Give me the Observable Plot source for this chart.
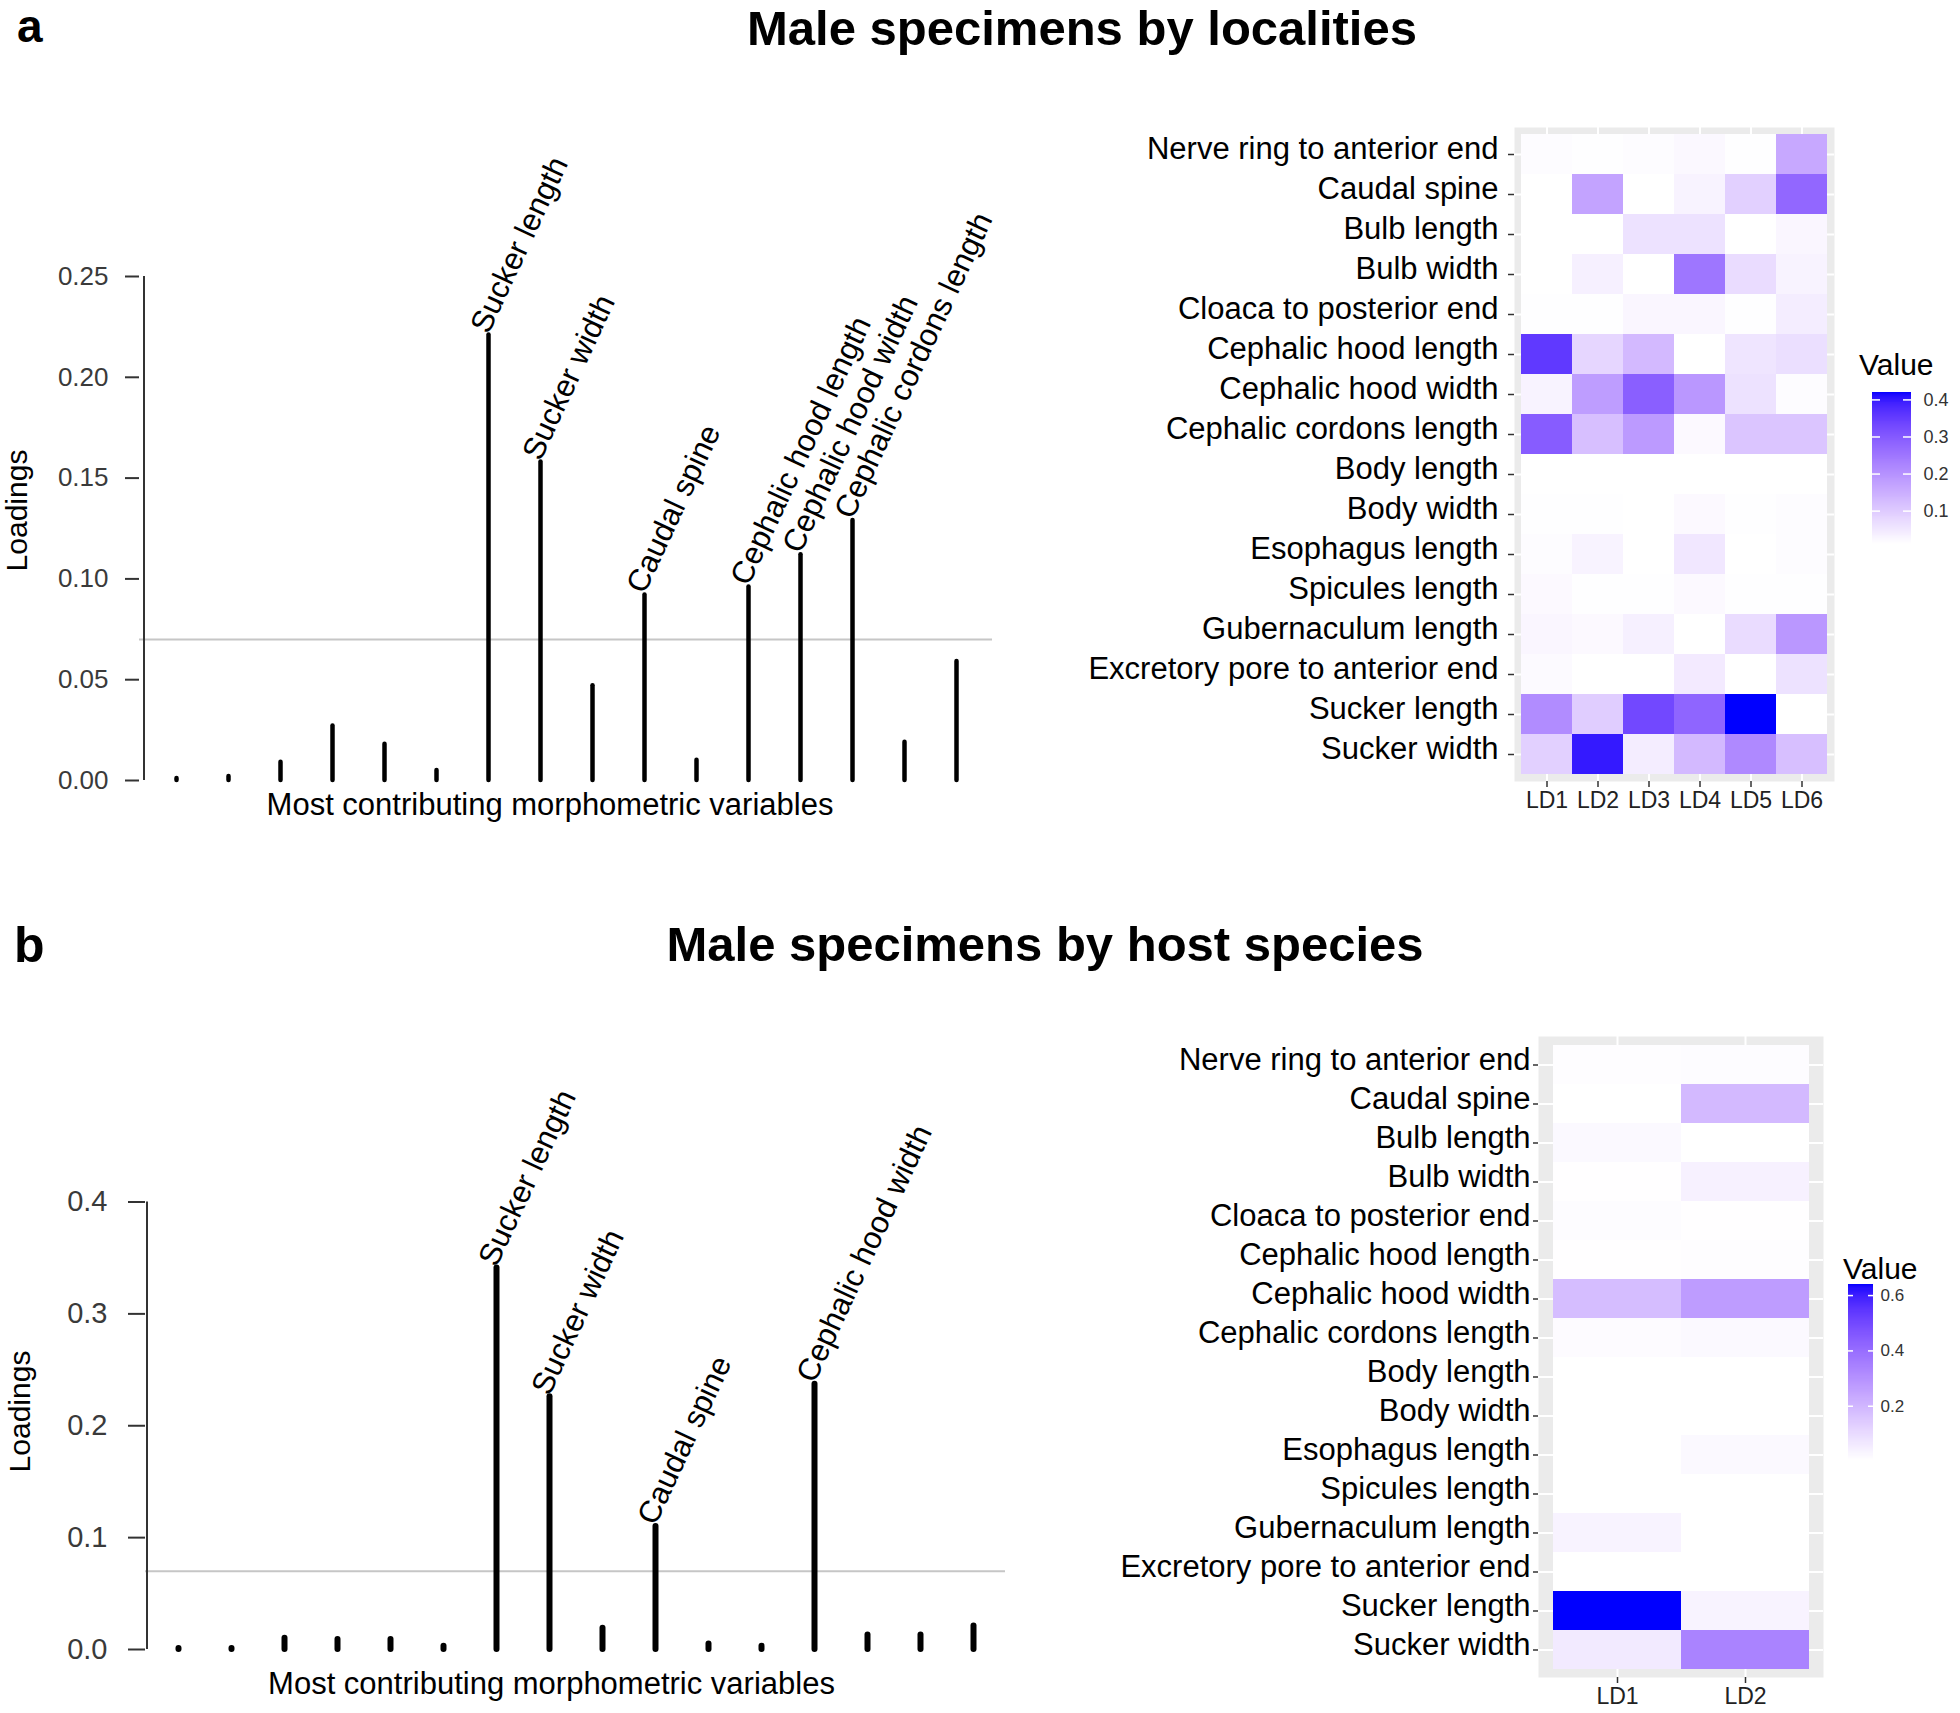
<!DOCTYPE html>
<html>
<head>
<meta charset="utf-8">
<script src="https://cdn.jsdelivr.net/npm/d3@7"></script>
<script src="https://cdn.jsdelivr.net/npm/@observablehq/plot@0.6"></script>
<style>
  html, body { margin: 0; padding: 0; background: #fff; }
  #root { position: relative; width: 1960px; height: 1713px; overflow: hidden; background: #fff;
          font-family: "Liberation Sans", Arial, Helvetica, sans-serif; }
  .t { position: absolute; line-height: 1; white-space: nowrap; color: #000; }
</style>
</head>
<body>
<div id="root"></div>
<script>
// ---------------- DATA ----------------
// Panel a: loadings of the 16 stems (left to right) and their labels
const loadingsA = [0.001, 0.002, 0.009, 0.027, 0.018, 0.005, 0.221, 0.158, 0.047, 0.092, 0.010, 0.096, 0.112, 0.129, 0.019, 0.059];
const stemLabelsA = ["", "", "", "", "", "", "Sucker length", "Sucker width", "", "Caudal spine", "", "Cephalic hood length", "Cephalic hood width", "Cephalic cordons length", "", ""];
const thresholdA = 0.07;
const yTicksA = [0, 0.05, 0.10, 0.15, 0.20, 0.25];

// Panel b
const loadingsB = [0.001, 0.001, 0.010, 0.009, 0.009, 0.003, 0.341, 0.226, 0.019, 0.110, 0.005, 0.003, 0.237, 0.013, 0.013, 0.021];
const stemLabelsB = ["", "", "", "", "", "", "Sucker length", "Sucker width", "", "Caudal spine", "", "", "Cephalic hood width", "", "", ""];
const thresholdB = 0.07;
const yTicksB = [0, 0.1, 0.2, 0.3, 0.4];

// Heatmap rows (top to bottom)
const variables = ["Nerve ring to anterior end", "Caudal spine", "Bulb length", "Bulb width", "Cloaca to posterior end",
  "Cephalic hood length", "Cephalic hood width", "Cephalic cordons length", "Body length", "Body width",
  "Esophagus length", "Spicules length", "Gubernaculum length", "Excretory pore to anterior end", "Sucker length", "Sucker width"];

// Heatmap a columns
const ldA = ["LD1", "LD2", "LD3", "LD4", "LD5", "LD6"];
const heatA_LD1 = [0.015, 0.010, 0.010, 0.010, 0.012, 0.355, 0.030, 0.295, 0.010, 0.012, 0.015, 0.020, 0.025, 0.018, 0.210, 0.090];
const heatA_LD2 = [0.012, 0.170, 0.010, 0.035, 0.012, 0.080, 0.180, 0.120, 0.010, 0.012, 0.030, 0.012, 0.020, 0.010, 0.095, 0.400];
const heatA_LD3 = [0.015, 0.010, 0.060, 0.010, 0.025, 0.130, 0.290, 0.185, 0.010, 0.010, 0.010, 0.012, 0.035, 0.010, 0.330, 0.040];
const heatA_LD4 = [0.022, 0.030, 0.060, 0.250, 0.025, 0.010, 0.190, 0.020, 0.010, 0.020, 0.050, 0.020, 0.010, 0.045, 0.280, 0.130];
const heatA_LD5 = [0.012, 0.090, 0.010, 0.070, 0.012, 0.055, 0.060, 0.110, 0.010, 0.012, 0.010, 0.012, 0.070, 0.010, 0.420, 0.215];
const heatA_LD6 = [0.160, 0.275, 0.025, 0.030, 0.040, 0.065, 0.015, 0.110, 0.010, 0.015, 0.015, 0.012, 0.190, 0.060, 0.010, 0.120];
const legendTicksA = [0.1, 0.2, 0.3, 0.4];

// Heatmap b columns
const ldB = ["LD1", "LD2"];
const heatB_LD1 = [0.008, 0.004, 0.020, 0.006, 0.012, 0.006, 0.180, 0.015, 0.004, 0.004, 0.005, 0.004, 0.035, 0.004, 0.640, 0.060];
const heatB_LD2 = [0.012, 0.190, 0.004, 0.040, 0.006, 0.010, 0.270, 0.020, 0.004, 0.004, 0.020, 0.004, 0.004, 0.004, 0.035, 0.340];
const legendTicksB = [0.2, 0.4, 0.6];

// ---------------- HELPERS ----------------
const FONT = '"Liberation Sans", Arial, Helvetica, sans-serif';
const NARROW = '"Liberation Sans Narrow", "Arial Narrow", "Liberation Sans", Arial, sans-serif';
const root = document.getElementById("root");

function place(node, left, top) {
  node.style.position = "absolute";
  node.style.left = left + "px";
  node.style.top = top + "px";
  root.appendChild(node);
}
// line-height 1: baseline sits 0.8465em below the box top (Liberation Sans metrics)
function htmlText(txt, {left, baseline, size, weight = "normal", anchor = "start"}) {
  const d = document.createElement("div");
  d.className = "t";
  d.textContent = txt;
  d.style.fontSize = size + "px";
  d.style.fontWeight = weight;
  d.style.left = left + "px";
  d.style.top = (baseline - 0.8465 * size) + "px";
  if (anchor === "middle") d.style.transform = "translateX(-50%)";
  root.appendChild(d);
}

function lollipop(o) {
  const data = o.loadings.map((v, i) => ({id: i + 1, v, label: o.labels[i]}));
  const y0 = o.yTicks[0], y1 = o.yTicks[o.yTicks.length - 1];
  return Plot.plot({
    width: o.width, height: o.height,
    marginLeft: o.marginLeft, marginRight: o.marginRight, marginTop: o.marginTop, marginBottom: o.marginBottom,
    style: {fontFamily: FONT, background: "transparent", overflow: "visible"},
    x: {type: "point", domain: data.map(d => d.id), padding: o.padding, axis: null},
    y: {domain: [y0, y1], range: o.yRange},
    marks: [
      Plot.ruleY([o.threshold], {stroke: "#c6c6c6", strokeWidth: 2}),
      Plot.ruleX([data[0].id], {y1: y0, y2: y1, dx: o.axisDx, stroke: "#333", strokeWidth: 2}),
      Plot.axisY({ticks: o.yTicks, tickFormat: o.tickFormat, tickSize: o.tickSize, tickPadding: o.tickPadding,
                  fontSize: o.tickFont, stroke: "#333", strokeWidth: 2, fill: "#3a3a3a", label: null}),
      Plot.axisY({ticks: [], label: "Loadings", labelAnchor: "center", labelArrow: false,
                  labelOffset: o.labelOffset, fontSize: 30, fill: "black"}),
      Plot.ruleX(data, {x: "id", y1: 0, y2: "v", stroke: "black", strokeWidth: o.stemWidth, strokeLinecap: "round"}),
      Plot.text(data.filter(d => d.label), {x: "id", y: "v", text: "label", rotate: -65,
                  textAnchor: "start", lineAnchor: "bottom", fontSize: 31, fill: "black"}),
      Plot.text(["Most contributing morphometric variables"], {frameAnchor: "bottom", lineAnchor: "bottom",
                  dx: o.titleDx, dy: o.titleDy, fontSize: 31, fill: "black"})
    ]
  });
}

function heatmap(o) {
  const cells = o.columns.flatMap((vals, j) => vals.map((value, i) => ({ld: o.xDomain[j], variable: variables[i], value})));
  return Plot.plot({
    width: o.width, height: o.height,
    marginLeft: o.marginLeft, marginRight: o.marginRight, marginTop: o.marginTop, marginBottom: o.marginBottom,
    style: {fontFamily: FONT, background: "transparent"},
    x: {type: "band", domain: o.xDomain, paddingInner: 0, paddingOuter: o.padX},
    y: {type: "band", domain: variables, paddingInner: 0, paddingOuter: o.padY},
    color: o.color,
    marks: [
      Plot.frame({fill: "#ebebeb"}),
      Plot.gridX({stroke: "white", strokeOpacity: 1, strokeWidth: 2}),
      Plot.gridY({stroke: "white", strokeOpacity: 1, strokeWidth: 2}),
      Plot.cell(cells, {x: "ld", y: "variable", fill: "value", inset: 0}),
      // tick marks only
      Plot.axisY({tickSize: o.yTickSize, stroke: "#333", strokeWidth: 1.5, fill: "none", label: null}),
      // tick labels only, sitting slightly above the tick like ggplot
      Plot.axisY({tickSize: o.yTickSize, tickPadding: o.yTickPadding, stroke: "none", dy: -5,
                  fontSize: 31, fill: "black", label: null}),
      Plot.axisX({tickSize: 6, tickPadding: 4, fontSize: 23, stroke: "#333", strokeWidth: 1.5, fill: "#222", label: null})
    ]
  });
}

function colorbar(o) {
  const [lo, hi] = o.color.domain;
  const n = 160;
  const slices = d3.range(n).map(i => ({a: lo + (hi - lo) * i / n, b: lo + (hi - lo) * (i + 1) / n}));
  const barW = o.width - o.marginLeft - o.marginRight;
  return Plot.plot({
    width: o.width, height: o.height,
    marginLeft: o.marginLeft, marginRight: o.marginRight, marginTop: o.marginTop, marginBottom: o.marginBottom,
    style: {fontFamily: o.family, background: "transparent"},
    y: {domain: [lo, hi]},
    color: o.color,
    marks: [
      Plot.rect(slices, {y1: "a", y2: "b", fill: d => (d.a + d.b) / 2, shapeRendering: "crispEdges"}),
      Plot.tickY(o.ticks, {stroke: "white", strokeWidth: 1.5, insetRight: barW - o.tickLen}),
      Plot.tickY(o.ticks, {stroke: "white", strokeWidth: 1.5, insetLeft: barW - o.tickLen}),
      Plot.axisY({anchor: "right", ticks: o.ticks, tickFormat: d3.format(".1f"), tickSize: 0, tickPadding: o.tickPadding,
                  fontSize: o.fontSize, fill: "#333", label: null})
    ]
  });
}

// ---------------- BUILD ----------------
const colsA = [heatA_LD1, heatA_LD2, heatA_LD3, heatA_LD4, heatA_LD5, heatA_LD6];
const colsB = [heatB_LD1, heatB_LD2];
const colorA = {type: "linear", domain: d3.extent(colsA.flat()), range: ["white", "blue"], interpolate: "lab"};
const colorB = {type: "linear", domain: d3.extent(colsB.flat()), range: ["white", "blue"], interpolate: "lab"};

// Titles (kept fully inside the page)
htmlText("a", {left: 17, baseline: 42, size: 46, weight: "bold"});
htmlText("Male specimens by localities", {left: 1082, baseline: 45, size: 49, weight: "bold", anchor: "middle"});
htmlText("b", {left: 14, baseline: 962, size: 50, weight: "bold"});
htmlText("Male specimens by host species", {left: 1045, baseline: 961, size: 49, weight: "bold", anchor: "middle"});

// Panel a lollipop (svg top at page y=100)
place(lollipop({
  loadings: loadingsA, labels: stemLabelsA, threshold: thresholdA, yTicks: yTicksA, tickFormat: d3.format(".2f"),
  width: 1000, height: 740, marginLeft: 139, marginRight: 8, marginTop: 140, marginBottom: 60,
  yRange: [680, 176], padding: 0.62, stemWidth: 4.5, tickFont: 26, tickSize: 14, tickPadding: 17,
  labelOffset: 134, axisDx: -32.5, titleDx: -16, titleDy: 34
}), 0, 100);

// Panel a heatmap
place(heatmap({
  columns: colsA, xDomain: ldA, color: colorA,
  width: 800, height: 730, marginLeft: 474, marginRight: 6, marginTop: 27, marginBottom: 49,
  padX: 0.077, padY: 0.075, yTickSize: 6, yTickPadding: 10
}), 1040, 100);

// Panel a legend
htmlText("Value", {left: 1859, baseline: 375, size: 30});
place(colorbar({
  color: colorA, ticks: legendTicksA, width: 110, height: 180,
  marginLeft: 22, marginRight: 49, marginTop: 12, marginBottom: 16,
  tickLen: 8, tickPadding: 12, fontSize: 18, family: FONT
}), 1850, 380);

// Panel b lollipop (svg top at page y=1000)
place(lollipop({
  loadings: loadingsB, labels: stemLabelsB, threshold: thresholdB, yTicks: yTicksB, tickFormat: d3.format(".1f"),
  width: 1020, height: 720, marginLeft: 145, marginRight: 15, marginTop: 173, marginBottom: 71,
  yRange: [649, 201.5], padding: 0.593, stemWidth: 6, tickFont: 29, tickSize: 17, tickPadding: 21,
  labelOffset: 137, axisDx: -31.5, titleDx: -24, titleDy: 44
}), 0, 1000);

// Panel b heatmap
place(heatmap({
  columns: colsB, xDomain: ldB, color: colorB,
  width: 800, height: 730, marginLeft: 498, marginRight: 17, marginTop: 36, marginBottom: 53,
  padX: 0.107, padY: 0.11, yTickSize: 5, yTickPadding: 3
}), 1040, 1000);

// Panel b legend
htmlText("Value", {left: 1843, baseline: 1279, size: 30});
place(colorbar({
  color: colorB, ticks: legendTicksB, width: 110, height: 200,
  marginLeft: 18, marginRight: 67, marginTop: 9, marginBottom: 15,
  tickLen: 5, tickPadding: 7, fontSize: 17, family: NARROW
}), 1830, 1275);
</script>
</body>
</html>
